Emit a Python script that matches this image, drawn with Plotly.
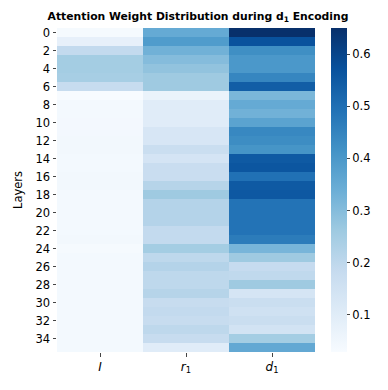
import plotly.graph_objects as go

# attention weights per layer (rows 0..35) for the three tokens
layers = list(range(36))
tokens = ["<i>I</i>", "<i>r</i><sub>1</sub>", "<i>d</i><sub>1</sub>"]

w_I = [0.035, 0.08, 0.19, 0.25, 0.25, 0.245, 0.18, 0.03,
       0.04, 0.04, 0.042, 0.042, 0.045, 0.045, 0.04, 0.04, 0.045, 0.045,
       0.04, 0.04, 0.04, 0.04, 0.04, 0.045, 0.035, 0.04, 0.04, 0.04,
       0.04, 0.04, 0.04, 0.04, 0.04, 0.04, 0.04, 0.04]
w_r1 = [0.35, 0.39, 0.33, 0.30, 0.28, 0.26, 0.26, 0.07,
        0.10, 0.10, 0.10, 0.13, 0.13, 0.17, 0.14, 0.175, 0.175, 0.215,
        0.26, 0.22, 0.22, 0.22, 0.19, 0.19, 0.25, 0.20, 0.22, 0.20,
        0.20, 0.215, 0.18, 0.19, 0.18, 0.20, 0.18, 0.10]
w_d1 = [0.65, 0.57, 0.425, 0.40, 0.40, 0.445, 0.54, 0.315,
        0.35, 0.33, 0.37, 0.44, 0.43, 0.41, 0.55, 0.56, 0.495, 0.55,
        0.555, 0.49, 0.49, 0.49, 0.49, 0.47, 0.32, 0.26, 0.185, 0.195,
        0.26, 0.135, 0.17, 0.155, 0.17, 0.145, 0.25, 0.355]

z = [[a, b, c] for a, b, c in zip(w_I, w_r1, w_d1)]

fig = go.Figure(go.Heatmap(
    z=z, x=tokens, y=layers,
    colorscale="Blues", zmin=0.029, zmax=0.65,
    colorbar=dict(thickness=16, len=1.0, lenmode="fraction",
                  x=1.062, xanchor="left", xpad=0, ypad=0,
                  y=0.5, yanchor="middle", outlinewidth=0,
                  tickvals=[0.1, 0.2, 0.3, 0.4, 0.5, 0.6],
                  ticks="outside", ticklen=3.5, tickfont=dict(size=11.5)),
))

# page body has an 8px default margin, so the figure is 8px smaller
fig.update_layout(
    width=380, height=382,
    margin=dict(l=49, r=73, t=20, b=38, autoexpand=False),
    paper_bgcolor="white", plot_bgcolor="white",
    font=dict(family="DejaVu Sans", size=11, color="black"),
    title=dict(text="<b>Attention Weight Distribution during d<sub>1</sub> Encoding</b>",
               font=dict(size=10.8), x=0.5, xanchor="center", y=0.979, yanchor="middle"),
)
fig.update_xaxes(ticks="outside", ticklen=3.5, showgrid=False, automargin=False,
                 tickfont=dict(size=12))
fig.update_yaxes(autorange="reversed", tickvals=list(range(0, 36, 2)),
                 ticks="outside", ticklen=3.5, showgrid=False, automargin=False,
                 tickfont=dict(size=11.5),
                 title=dict(text="Layers", font=dict(size=11.5), standoff=10))

fig.write_html("out.html")
